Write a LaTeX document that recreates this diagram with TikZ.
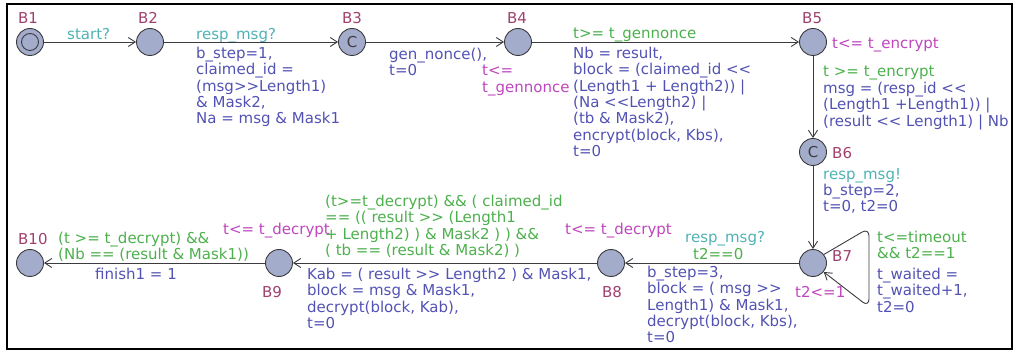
\documentclass[tikz,border=0pt]{standalone}
\usepackage{fontspec}
\setmainfont{DejaVu Sans}
\usetikzlibrary{arrows.meta}
\definecolor{locname}{RGB}{160,64,110}
\definecolor{syncc}{RGB}{80,178,180}
\definecolor{guardc}{RGB}{76,176,76}
\definecolor{updc}{RGB}{82,82,180}
\definecolor{invc}{RGB}{190,70,190}
\definecolor{locfill}{RGB}{164,172,204}
\definecolor{locline}{RGB}{60,60,64}
\tikzset{
  loc/.style={circle, draw=locline, fill=locfill, line width=0.9pt, minimum size=27pt, inner sep=0pt},
  initloc/.style={loc, path picture={\draw[locline, line width=0.9pt] (path picture bounding box.center) circle (8.5pt);}},
  comloc/.style={loc, font=\fontsize{15}{16}\selectfont, text=locline},
  lbl/.style={anchor=north west, inner sep=0pt, align=left, font=\fontsize{15}{16.3}\selectfont},
  lname/.style={lbl, text=locname},
  lsync/.style={lbl, text=syncc},
  lguard/.style={lbl, text=guardc},
  lupd/.style={lbl, text=updc},
  linv/.style={lbl, text=invc}
}
\begin{document}
\begin{tikzpicture}[x=1pt, y=-1pt, >={Straight Barb[length=7pt,width=9pt]}]
  \useasboundingbox (0,0) rectangle (1014,352);
  \draw[line width=1.6pt] (7,4) rectangle (1012,349);

  \node[initloc] (B1) at (30,42) {};
  \node[loc] (B2) at (150,42) {};
  \node[comloc] (B3) at (352,42) {C};
  \node[loc] (B4) at (518,42) {};
  \node[loc] (B5) at (813,42) {};
  \node[comloc] (B6) at (813,152) {C};
  \node[loc] (B7) at (813,263) {};
  \node[loc] (B8) at (611,263) {};
  \node[loc] (B9) at (279,263) {};
  \node[loc] (B10) at (30,263) {};

  \node[lname] (n1) at (18,12) {B1};
  \node[lname] (n2) at (138,12) {B2};
  \node[lname] (n3) at (342,12) {B3};
  \node[lname] (n4) at (507,12) {B4};
  \node[lname] (n5) at (802,12) {B5};
  \node[lname] (n6) at (832,147) {B6};
  \node[lname] (n7) at (832,250) {B7};
  \node[lname] (n8) at (602,286) {B8};
  \node[lname] (n9) at (262,286) {B9};
  \node[lname] (n10) at (18,233) {B10};

  \node[linv] (inv4) at (482,65) {t<=\\t\_gennonce};
  \node[linv] (inv5) at (832,38) {t<= t\_encrypt};
  \node[linv] (inv7) at (795,286) {t2<=1};
  \node[linv] (inv8) at (565,223) {t<= t\_decrypt};
  \node[linv] (inv9) at (223,223) {t<= t\_decrypt};

  \node[lsync] (s12) at (67,28) {start?};
  \node[lsync] (s23) at (196,28) {resp\_msg?};
  \node[lupd] (u23) at (196,47) {b\_step=1,\\claimed\_id =\\(msg>{}>Length1)\\\& Mask2,\\Na = msg \& Mask1};
  \node[lupd] (u34) at (389,48) {gen\_nonce(),\\t=0};
  \node[lguard] (g45) at (573,28) {t>= t\_gennonce};
  \node[lupd] (u45) at (573,47) {Nb = result,\\block = (claimed\_id <{}<\\(Length1 + Length2)) |\\(Na <{}<Length2) |\\(tb \& Mask2),\\encrypt(block, Kbs),\\t=0};
  \node[lguard] (g56) at (823,66) {t >= t\_encrypt};
  \node[lupd] (u56) at (823,82) {msg = (resp\_id <{}<\\(Length1 +Length1)) |\\(result <{}< Length1) | Nb};
  \node[lsync] (s67) at (823,168) {resp\_msg!};
  \node[lupd] (u67) at (823,184) {b\_step=2,\\t=0, t2=0};
  \node[lguard] (g77) at (877,231) {t<=timeout\\\&\& t2==1};
  \node[lupd] (u77) at (877,268) {t\_waited =\\t\_waited+1,\\t2=0};
  \node[lsync] (s78) at (685,231) {resp\_msg?};
  \node[lguard] (g78) at (693,248) {t2==0};
  \node[lupd] (u78) at (647,266) {b\_step=3,\\block = ( msg >{}>\\Length1) \& Mask1,\\decrypt(block, Kbs),\\t=0};
  \node[lguard] (g89) at (325,195) {(t>=t\_decrypt) \&\& ( claimed\_id\\== (( result >{}> (Length1\\+ Length2) ) \& Mask2 ) ) \&\&\\( tb == (result \& Mask2) )};
  \node[lupd] (u89) at (307,268) {Kab = ( result >{}> Length2 ) \& Mask1,\\block = msg \& Mask1,\\decrypt(block, Kab),\\t=0};
  \node[lguard] (g910) at (58,232) {(t >= t\_decrypt) \&\&\\(Nb == (result \& Mask1))};
  \node[lupd] (u910) at (95,268) {finish1 = 1};

  \path[->, draw=locline, line width=0.9pt]
  (B1) edge (B2)
  (B2) edge (B3)
  (B3) edge (B4)
  (B4) edge (B5)
  (B5) edge (B6)
  (B6) edge (B7)
  (B7) edge (B8)
  (B8) edge (B9)
  (B9) edge (B10)
  ;
  \draw[->, locline, line width=0.9pt, rounded corners=8pt] (B7.38) -- (869,228) -- (869,307) -- (B7.-40);
\end{tikzpicture}
\end{document}
